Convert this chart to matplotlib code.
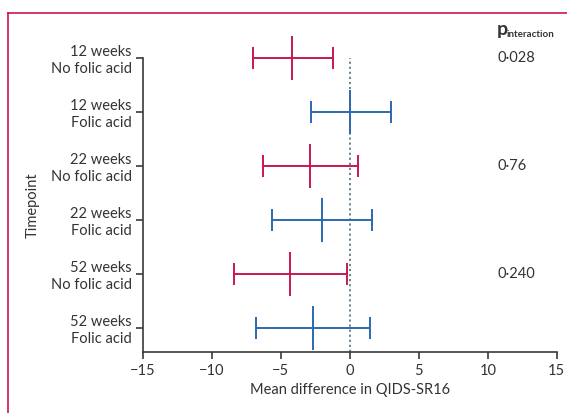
import matplotlib.pyplot as plt
from matplotlib.lines import Line2D

# data
labels = ["12 weeks\nNo folic acid", "12 weeks\nFolic acid",
          "22 weeks\nNo folic acid", "22 weeks\nFolic acid",
          "52 weeks\nNo folic acid", "52 weeks\nFolic acid"]
means = [-4.15, 0.05, -2.85, -2.03, -4.3, -2.63]
lower = [-7.03, -2.83, -6.25, -5.65, -8.38, -6.76]
upper = [-1.25, 3.0, 0.6, 1.59, -0.22, 1.5]
folic = [False, True, False, True, False, True]
p_rows = [0, 2, 4]
p_values = ["0·028", "0·76", "0·240"]
xticks = [-15, -10, -5, 0, 5, 10, 15]

red = "#c8174f"
blue = "#2b6aad"
dark = "#3a3a3a"
txt = "#333333"

plt.rcParams['font.family'] = ['Lato', 'DejaVu Sans']

fig = plt.figure(figsize=(5.67, 4.13), dpi=100)
ax = fig.add_axes([0.2517, 0.1484, 0.7303, 0.7112])

for i in range(len(means)):
    c = blue if folic[i] else red
    ax.plot([lower[i], upper[i]], [i, i], color=c, lw=1.4, clip_on=False, zorder=3)
    ax.plot([lower[i], upper[i]], [i, i], ls="none", marker="|", ms=16, mew=1.4,
            color=c, clip_on=False, zorder=3)
    ax.plot([means[i]], [i], ls="none", marker="|", ms=32, mew=1.4,
            color=c, clip_on=False, zorder=3)

ax.axvline(0, color="#5f7a87", lw=1.3, ls=(0, (1.2, 1.6)), zorder=2)

ax.set_xlim(-15, 15)
ax.set_ylim(5.445, 0)
ax.set_xticks(xticks)
ax.set_xticklabels(["\u2212" + str(-t) if t < 0 else str(t) for t in xticks])
ax.set_yticks(range(len(labels)))
ax.set_yticklabels(labels, multialignment="right", linespacing=1.25)

for s in ["top", "right"]:
    ax.spines[s].set_visible(False)
for s in ["left", "bottom"]:
    ax.spines[s].set_color(dark)
    ax.spines[s].set_linewidth(1.2)
ax.tick_params(axis="both", colors=dark, labelcolor=txt, length=5,
               width=1.2, labelsize=10.5)
ax.tick_params(axis="y", pad=3)

ax.set_xlabel("Mean difference in QIDS-SR16", fontsize=10.5, color=txt, labelpad=4)
ax.set_ylabel("Timepoint", fontsize=10.5, color=txt, labelpad=8)

# p interaction column
fig.text(497 / 567, 1 - 35 / 413, "p", fontsize=14, color=txt, va="baseline",
         fontweight="bold")
fig.text(507 / 567, 1 - 37 / 413, "interaction", fontsize=7, color=txt,
         va="baseline", fontweight="bold")
for r, p in zip(p_rows, p_values):
    ypix = 58 + r * 53.94
    fig.text(498 / 567, 1 - ypix / 413, p, fontsize=10.5, color=txt, va="center")

# red frame lines
fig.add_artist(Line2D([8 / 567, 8 / 567], [0, 1 - 13 / 413], color=red, lw=1.2,
                      transform=fig.transFigure))
fig.add_artist(Line2D([8 / 567, 1], [1 - 13 / 413, 1 - 13 / 413], color=red, lw=1.2,
                      transform=fig.transFigure))

fig.savefig("out.png", dpi=100)
